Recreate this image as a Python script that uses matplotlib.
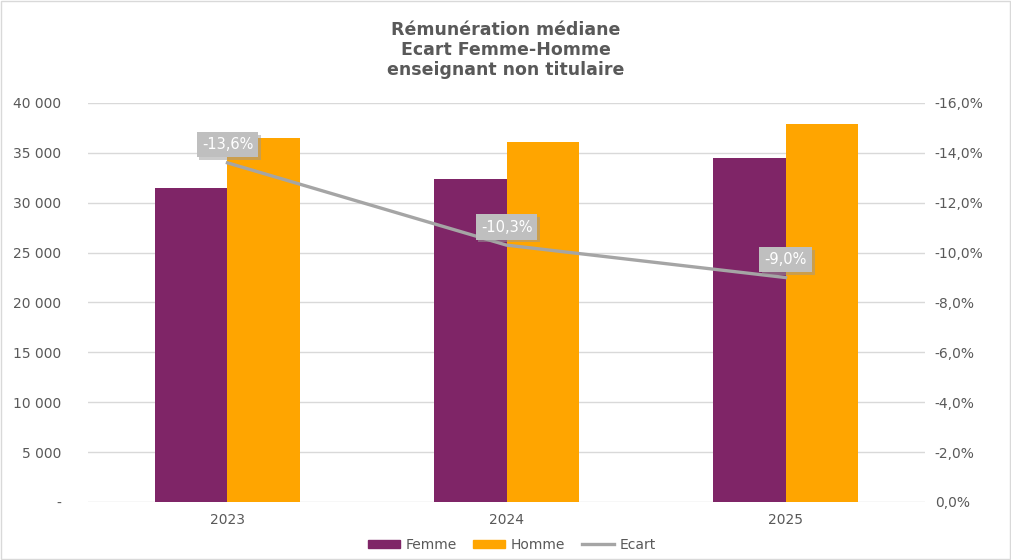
import matplotlib.pyplot as plt
import matplotlib.patheffects as pe
import numpy as np
from matplotlib.lines import Line2D
from matplotlib.patches import Patch

annees = ["2023", "2024", "2025"]
femme = [31500, 32400, 34500]
homme = [36500, 36100, 37900]
ecart = [-13.6, -10.3, -9.0]

c_femme = "#7F2567"
c_homme = "#FFA500"
c_ecart = "#A5A5A5"
c_txt = "#595959"

plt.rcParams["font.family"] = "DejaVu Sans"

fig = plt.figure(figsize=(10.11, 5.6), dpi=100)
fig.patches.append(plt.Rectangle((0.001, 0.001), 0.998, 0.997, transform=fig.transFigure,
                                 fill=False, edgecolor="#D9D9D9", linewidth=1))
ax = fig.add_axes([0.087, 0.1036, 0.828, 0.7125])

x = np.arange(len(annees))
w = 0.26
ax.bar(x - w / 2, femme, w, color=c_femme, zorder=2)
ax.bar(x + w / 2, homme, w, color=c_homme, zorder=2)
ax.set_xlim(-0.5, 2.5)
ax.set_ylim(0, 40000)
ax.set_yticks(np.arange(0, 40001, 5000))
ax.set_yticklabels(["-"] + [f"{v:,}".replace(",", " ") for v in range(5000, 40001, 5000)])
ax.set_xticks(x)
ax.set_xticklabels(annees)
ax.grid(axis="y", color="#D9D9D9", linewidth=1, zorder=0)
for s in ax.spines.values():
    s.set_visible(False)
ax.tick_params(length=0, colors=c_txt, labelsize=10)
ax.tick_params(axis="y", pad=19)
ax.tick_params(axis="x", pad=8)

ax2 = ax.twinx()
ax2.set_ylim(0, -16)
ticks2 = np.arange(0, -16.1, -2)
ax2.set_yticks(ticks2)
ax2.set_yticklabels(["0,0%"] + [f"{v:.1f}%".replace(".", ",") for v in ticks2[1:]])
for s in ax2.spines.values():
    s.set_visible(False)
ax2.tick_params(length=0, colors=c_txt, labelsize=10, pad=7)
ax2.plot(x, ecart, color=c_ecart, linewidth=2.4, zorder=3)

for xi, e in zip(x, ecart):
    t = ax2.annotate(f"{e:.1f}%".replace(".", ","), (xi, e), xytext=(0, 13),
                     textcoords="offset points", ha="center", va="center",
                     fontsize=10.5, color="white",
                     bbox=dict(boxstyle="square,pad=0.35", facecolor="#BFBFBF", edgecolor="none"))
    t.get_bbox_patch().set_path_effects([pe.withSimplePatchShadow(offset=(2, -2), shadow_rgbFace="#999999", alpha=0.5)])

fig.text(0.5, 0.962, "Rémunération médiane\nEcart Femme-Homme\nenseignant non titulaire",
         ha="center", va="top", fontsize=12.5, fontweight="bold", color=c_txt, linespacing=1.15)

handles = [Patch(color=c_femme), Patch(color=c_homme), Line2D([], [], color=c_ecart, linewidth=2.4)]
fig.legend(handles, ["Femme", "Homme", "Ecart"], loc="center", bbox_to_anchor=(0.506, 0.027),
           ncol=3, frameon=False, fontsize=10, labelcolor=c_txt, handlelength=2.3,
           handleheight=0.6, columnspacing=1.2, handletextpad=0.4)

fig.savefig("out.png", dpi=100)
